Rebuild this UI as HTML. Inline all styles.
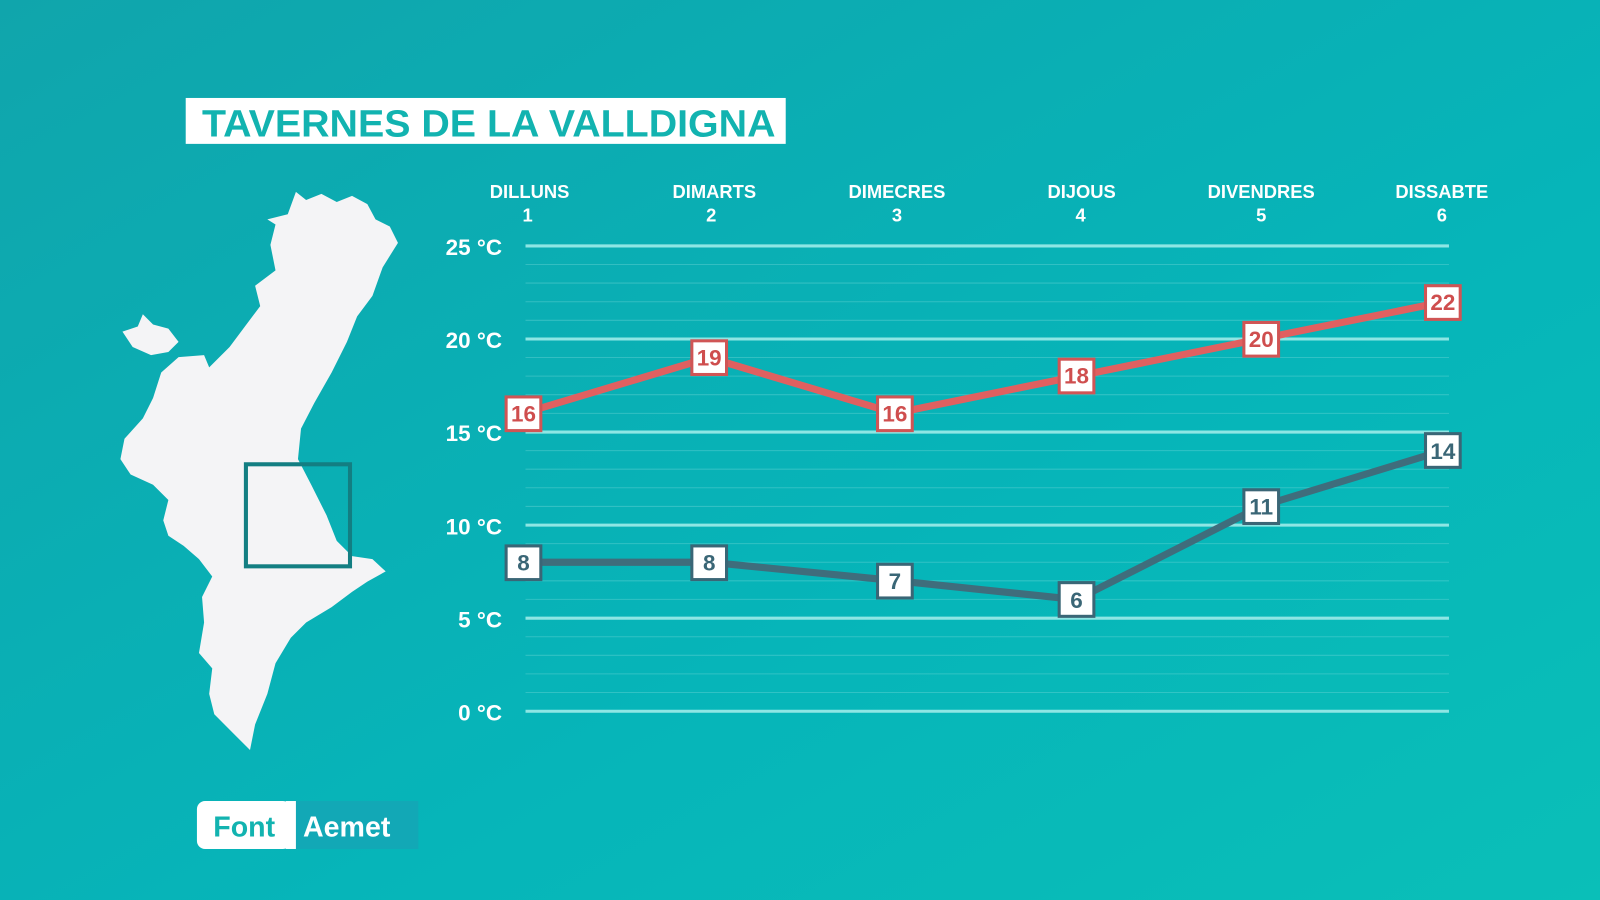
<!DOCTYPE html>
<html><head><meta charset="utf-8"><style>
html,body{margin:0;padding:0;width:1600px;height:900px;overflow:hidden}
svg{display:block}
text{font-family:"Liberation Sans",sans-serif;font-weight:bold}
</style></head><body>
<svg width="1600" height="900" viewBox="0 0 1568 882" preserveAspectRatio="none">
<defs><linearGradient id="bg" x1="0" y1="0" x2="1" y2="1">
<stop offset="0" stop-color="#10a5ac"/><stop offset="0.6" stop-color="#06b5b9"/><stop offset="1" stop-color="#0abfb8"/></linearGradient></defs>
<rect width="1568" height="882" fill="url(#bg)"/>
<rect x="182" y="96" width="588" height="45" fill="#fff"/>
<text x="198" y="134" font-size="37" fill="#12b3b0" textLength="562" lengthAdjust="spacingAndGlyphs">TAVERNES DE LA VALLDIGNA</text>
<!-- map -->
<path fill="#f4f4f6" d="M290,188 L300,196 L315,190 L330,198 L345,192 L360,200 L368,215 L382,222 L390,238 L375,262 L365,290 L350,310 L340,335 L325,365 L308,395 L295,420 L292,450 L305,475 L320,505 L330,530 L345,545 L365,548 L378,560 L360,570 L345,580 L325,595 L300,610 L285,625 L270,650 L262,680 L250,710 L245,735 L230,720 L210,700 L205,680 L208,655 L195,640 L200,610 L198,585 L208,565 L195,548 L180,535 L165,525 L160,510 L165,490 L150,475 L128,465 L118,450 L122,430 L140,410 L150,390 L158,365 L175,350 L200,348 L205,360 L225,340 L240,320 L255,300 L250,280 L270,265 L265,240 L270,220 L262,215 L282,210 Z"/>
<path fill="#f4f4f6" d="M120,325 L135,320 L140,308 L150,318 L165,322 L175,335 L165,345 L148,348 L130,340 Z"/>
<rect x="241" y="455" width="102" height="100" fill="none" stroke="#137e82" stroke-width="4"/>
<!-- source -->
<rect x="193" y="785" width="92" height="47" rx="8" fill="#fff"/>
<rect x="285" y="785" width="125" height="47" fill="#12a8b6"/>
<rect x="280" y="785" width="10" height="47" fill="#fff"/>
<text x="209" y="820" font-size="28" fill="#12b3b0">Font</text>
<text x="297" y="820" font-size="28" fill="#fff">Aemet</text>
<!-- grid -->
<g stroke="#7fdcdc" stroke-width="1" opacity="0.35">
<line x1="515" x2="1420" y1="259.2" y2="259.2"/><line x1="515" x2="1420" y1="277.4" y2="277.4"/><line x1="515" x2="1420" y1="295.7" y2="295.7"/><line x1="515" x2="1420" y1="313.9" y2="313.9"/>
<line x1="515" x2="1420" y1="350.4" y2="350.4"/><line x1="515" x2="1420" y1="368.6" y2="368.6"/><line x1="515" x2="1420" y1="386.8" y2="386.8"/><line x1="515" x2="1420" y1="405.1" y2="405.1"/>
<line x1="515" x2="1420" y1="441.6" y2="441.6"/><line x1="515" x2="1420" y1="459.8" y2="459.8"/><line x1="515" x2="1420" y1="478" y2="478"/><line x1="515" x2="1420" y1="496.3" y2="496.3"/>
<line x1="515" x2="1420" y1="532.8" y2="532.8"/><line x1="515" x2="1420" y1="551" y2="551"/><line x1="515" x2="1420" y1="569.2" y2="569.2"/><line x1="515" x2="1420" y1="587.4" y2="587.4"/>
<line x1="515" x2="1420" y1="624" y2="624"/><line x1="515" x2="1420" y1="642.2" y2="642.2"/><line x1="515" x2="1420" y1="660.4" y2="660.4"/><line x1="515" x2="1420" y1="678.7" y2="678.7"/>
</g>
<g stroke="#8ee6e4" stroke-width="3">
<line x1="515" x2="1420" y1="241" y2="241"/><line x1="515" x2="1420" y1="332.2" y2="332.2"/><line x1="515" x2="1420" y1="423.4" y2="423.4"/><line x1="515" x2="1420" y1="514.6" y2="514.6"/><line x1="515" x2="1420" y1="605.8" y2="605.8"/><line x1="515" x2="1420" y1="697" y2="697"/>
</g>
<g font-size="22" fill="#fff" text-anchor="end">
<text x="492" y="250">25 °C</text><text x="492" y="341">20 °C</text><text x="492" y="432">15 °C</text><text x="492" y="524">10 °C</text><text x="492" y="615">5 °C</text><text x="492" y="706">0 °C</text>
</g>
<g font-size="18" fill="#fff" text-anchor="middle">
<text x="519" y="194">DILLUNS</text><text x="517" y="217">1</text>
<text x="700" y="194">DIMARTS</text><text x="697" y="217">2</text>
<text x="879" y="194">DIMECRES</text><text x="879" y="217">3</text>
<text x="1060" y="194">DIJOUS</text><text x="1059" y="217">4</text>
<text x="1236" y="194">DIVENDRES</text><text x="1236" y="217">5</text>
<text x="1413" y="194">DISSABTE</text><text x="1413" y="217">6</text>
</g>
<polyline fill="none" stroke="#e06060" stroke-width="7" points="513,405 695,350.5 877,405 1055,368.7 1236,332 1414,296"/>
<polyline fill="none" stroke="#3f6d7c" stroke-width="7" points="513,551 695,551 877,569 1055,587.6 1236,496 1414,441.6"/>
<g font-size="22" text-anchor="middle">
<g stroke="#d05555" stroke-width="3" fill="#fff">
<rect x="496" y="389" width="34" height="33"/><rect x="678" y="334" width="34" height="33"/><rect x="860" y="389" width="34" height="33"/><rect x="1038" y="352" width="34" height="33"/><rect x="1219" y="316" width="34" height="33"/><rect x="1397" y="280" width="34" height="33"/>
</g>
<g fill="#cf4e4e">
<text x="513" y="413">16</text><text x="695" y="358">19</text><text x="877" y="413">16</text><text x="1055" y="376">18</text><text x="1236" y="340">20</text><text x="1414" y="304">22</text>
</g>
<g stroke="#3a6676" stroke-width="3" fill="#fff">
<rect x="496" y="535" width="34" height="33"/><rect x="678" y="535" width="34" height="33"/><rect x="860" y="553" width="34" height="33"/><rect x="1038" y="571" width="34" height="33"/><rect x="1219" y="480" width="34" height="33"/><rect x="1397" y="425" width="34" height="33"/>
</g>
<g fill="#3a6676">
<text x="513" y="559">8</text><text x="695" y="559">8</text><text x="877" y="577">7</text><text x="1055" y="596">6</text><text x="1236" y="504">11</text><text x="1414" y="450">14</text>
</g>
</g>
</svg>
</body></html>
